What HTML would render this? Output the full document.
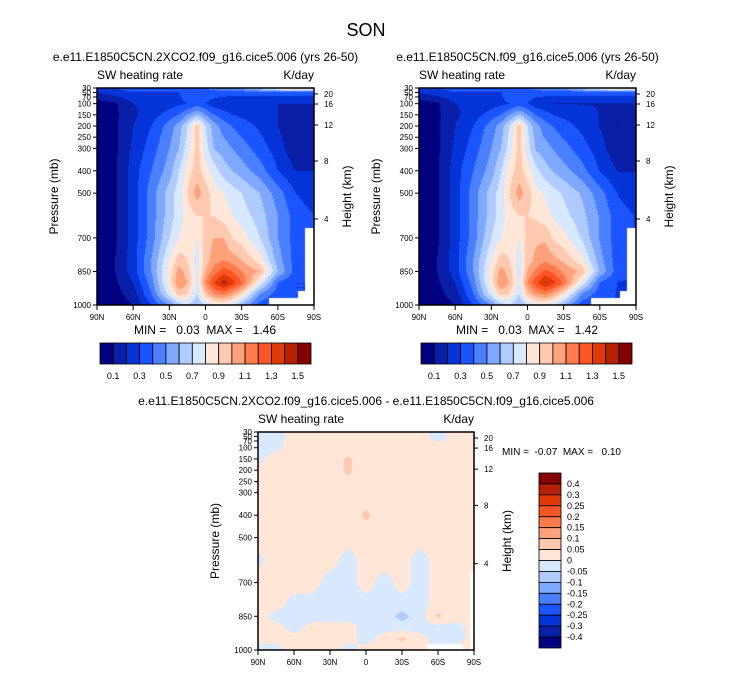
<!DOCTYPE html>
<html><head><meta charset="utf-8">
<style>
body{margin:0;background:#fff;width:733px;height:673px;overflow:hidden;position:relative;font-family:"Liberation Sans",sans-serif}
canvas{position:absolute}
svg{position:absolute;left:0;top:0}
text{white-space:pre}
</style></head><body>
<canvas id="c1" width="217" height="217" style="left:97px;top:88px"></canvas>
<canvas id="c2" width="217" height="217" style="left:419px;top:88px"></canvas>
<canvas id="c3" width="216" height="218" style="left:258px;top:432px"></canvas>
<svg id="s" width="733" height="673" xmlns="http://www.w3.org/2000/svg"></svg>
<script>
const latsA=[90,75,60,45,30,22,15,7,0,-7,-15,-22,-30,-45,-60,-75,-90];
const latsD=[90,75,60,45,30,15,0,-15,-30,-45,-60,-75,-90];
const xLabels=['90N','60N','30N','0','30S','60S','90S'];
const pres=[30,50,100,150,200,300,400,500,600,700,800,850,900,950,1000];
const pTicks=[30,50,70,100,150,200,250,300,400,500,700,850,1000];
const hTicks=[[20,94],[16,104],[12,125],[8,161],[4,219]];
const fieldA=[
[.3,.3,.35,.35,.35,.35,.4,.4,.4,.45,.5,.5,.55,.7,.9,1.0,1.0],
[.2,.25,.3,.3,.3,.3,.35,.35,.35,.35,.35,.35,.35,.35,.35,.35,.35],
[.05,.08,.2,.22,.25,.28,.3,.35,.3,.25,.22,.2,.2,.2,.2,.2,.2],
[.05,.08,.18,.25,.35,.4,.5,.6,.5,.4,.35,.3,.28,.25,.2,.15,.15],
[.05,.08,.2,.3,.45,.55,.7,.95,.7,.55,.45,.4,.35,.28,.2,.1,.12],
[.05,.08,.22,.35,.5,.6,.75,.95,.75,.6,.55,.5,.45,.35,.25,.12,.15],
[.05,.08,.25,.4,.55,.7,.85,.95,.85,.75,.65,.6,.55,.45,.3,.2,.2],
[.05,.08,.25,.45,.65,.75,.9,1.05,.95,.85,.8,.75,.7,.6,.45,.3,.25],
[.05,.08,.25,.45,.65,.75,.85,.9,.9,.9,.85,.8,.75,.65,.5,.35,.3],
[.05,.08,.25,.45,.7,.8,.85,.8,.95,1.0,1.0,.9,.85,.7,.5,.35,.3],
[.05,.1,.25,.5,.8,.95,.9,.75,.95,1.05,1.1,1.05,1.0,.85,.55,.35,.3],
[.05,.1,.25,.5,.85,1.05,.95,.75,1.0,1.15,1.25,1.2,1.1,1.0,.6,.35,.3],
[.05,.08,.2,.45,.85,1.1,1.0,.75,1.1,1.3,1.45,1.35,1.2,.8,.4,.3,.3],
[.05,.06,.15,.4,.75,.95,.9,.7,.95,1.1,1.15,1.05,.9,.5,.35,.3,.3],
[.04,.05,.1,.3,.5,.65,.7,.6,.7,.8,.8,.75,.6,.35,.3,.3,.3]];
const fieldB=fieldA.map(r=>r.map((v,i)=>i>=9?v*0.98:v));
const fieldD=[
[-.02,-.02,.02,.02,.02,.02,.02,.02,.02,.02,-.02,.02,.02],
[-.02,-.02,.02,.02,.02,.02,.02,.02,.02,.02,-.02,.02,.02],
[-.02,-.01,.02,.02,.02,.02,.02,.02,.02,.02,.02,.02,.02],
[-.01,.02,.02,.02,.02,.06,.02,.02,.02,.02,.02,.02,.02],
[.02,.02,.02,.02,.02,.06,.02,.02,.02,.02,.02,.02,.02],
[.02,.02,.02,.02,.02,.02,.02,.02,.02,.02,.02,.02,.02],
[.02,.02,.02,.02,.02,.02,.06,.02,.02,.02,.02,.02,.02],
[.02,.02,.02,.02,.02,.02,.02,.02,.02,.02,.02,.02,.02],
[-.01,.02,.02,.02,.02,-.02,.02,.02,.02,-.02,.02,.02,.02],
[.02,.02,.02,.02,-.02,-.02,.02,-.02,.02,-.02,.02,.02,.02],
[.02,.02,-.02,-.02,-.02,-.02,-.02,-.02,-.02,-.02,.02,.02,.02],
[.02,-.02,-.02,-.02,-.02,-.02,-.02,-.02,-.07,-.02,.06,.02,.02],
[.02,.02,-.02,.02,.02,.02,-.02,-.02,-.02,-.02,-.02,-.02,.02],
[.02,.02,.02,.02,.02,.02,-.02,.02,.06,.02,-.02,-.02,.02],
[-.02,-.02,.02,.02,.02,-.02,.02,.02,.02,.02,-.02,.02,.02]];
const colors=['#000080','#0a1fa8','#0535d8','#1a55ff','#4a7fff','#7fa8ff','#b0cbff','#d8e8ff','#ffe6d6','#ffc9b0','#ffa27c','#ff7b4c','#ff5424','#e03a0a','#b52000','#870000'];
const levA=[0.1,0.2,0.3,0.4,0.5,0.6,0.7,0.8,0.9,1.0,1.1,1.2,1.3,1.4,1.5];
const levD=[-0.4,-0.3,-0.25,-0.2,-0.15,-0.1,-0.05,0,0.05,0.1,0.15,0.2,0.25,0.3,0.4];
const labA=['0.1','0.3','0.5','0.7','0.9','1.1','1.3','1.5'];
const labD=['0.4','0.3','0.25','0.2','0.15','0.1','0.05','0','-0.05','-0.1','-0.15','-0.2','-0.25','-0.3','-0.4'];

function interp(F,lats,lat,p){
  let j=0;while(j<pres.length-2&&p>pres[j+1])j++;
  const t=Math.min(1,Math.max(0,(p-pres[j])/(pres[j+1]-pres[j])));
  let i=0;while(i<lats.length-2&&lat<lats[i+1])i++;
  const u=Math.min(1,Math.max(0,(lats[i]-lat)/(lats[i]-lats[i+1])));
  const a=F[j][i]*(1-u)+F[j][i+1]*u,b=F[j+1][i]*(1-u)+F[j+1][i+1]*u;
  return a*(1-t)+b*t;
}
function lev(v,L){let k=0;while(k<L.length&&v>=L[k])k++;return k;}
function draw(id,F,lats,L,w,h){
  const ctx=document.getElementById(id).getContext('2d');
  for(let y=0;y<h;y++){const p=30+(y+0.5)/h*970;
    for(let x=0;x<w;x++){const lat=90-(x+0.5)/w*180;
      ctx.fillStyle=colors[lev(interp(F,lats,lat,p),L)];ctx.fillRect(x,y,1,1);}}
  return ctx;
}
const c1=draw('c1',fieldA,latsA,levA,217,217),c2=draw('c2',fieldB,latsA,levA,217,217),c3=draw('c3',fieldD,latsD,levD,216,218);
[c1,c2].forEach(c=>{c.fillStyle='#fff';c.fillRect(172,210,32,7);c.fillRect(208,140,9,77);c.fillRect(201,203,8,14);});
c3.fillStyle='#fff';c3.fillRect(169,212,36,6);c3.fillRect(212,140,4,78);

const S=document.getElementById('s');const NS='http://www.w3.org/2000/svg';
function el(tag,at,txt){const e=document.createElementNS(NS,tag);for(const k in at)e.setAttribute(k,at[k]);if(txt!=null)e.textContent=txt;S.appendChild(e);return e;}
function T(x,y,s,txt,anchor,name,extra){const e=el('text',Object.assign({x:x,y:y,'font-size':s,'text-anchor':anchor||'start','font-family':'Liberation Sans, sans-serif'},extra||{}),txt);

return e;}
T(366,36,18,'SON','middle','main-title');
function panel(x0,y0,w,h,title,name,ty){
  T(x0+w/2,ty,12,title,'middle',name+'-title');
  T(x0,y0-9,12,'SW heating rate','start',name+'-left-string');
  T(x0+w,y0-9,12,'K/day','end',name+'-units');
  const r=el('rect',{x:x0,y:y0,width:w,height:h,fill:'none',stroke:'#000','stroke-width':1.5});
  
  
  const py=p=>y0+(p-30)/970*h;
  pTicks.forEach(p=>{el('line',{x1:x0-4,x2:x0,y1:py(p),y2:py(p),stroke:'#000'});
    T(x0-6,py(p)+3,8,String(p),'end',name+'-ytick-'+p);});
  hTicks.forEach(([k,yy])=>{const y=y0+(yy-88)*h/217;el('line',{x1:x0+w,x2:x0+w+4,y1:y,y2:y,stroke:'#000'});
    T(x0+w+10,y+3,8,String(k),'start',name+'-htick-'+k);});
  xLabels.forEach((l,i)=>{const x=x0+i*w/6;el('line',{x1:x,x2:x,y1:y0+h,y2:y0+h+5,stroke:'#000'});
    T(x,y0+h+15,8,l,'middle',name+'-xtick-'+l);});
  T(0,0,12,'Pressure (mb)','middle',name+'-y-axis-title',{transform:'translate('+(x0-39)+','+(y0+h/2)+') rotate(-90)'});
  T(0,0,12,'Height (km)','middle',name+'-right-axis-title',{transform:'translate('+(x0+w+37)+','+(y0+h/2)+') rotate(-90)'});
}
panel(97,88,217,217,'e.e11.E1850C5CN.2XCO2.f09_g16.cice5.006 (yrs 26-50)','left-panel',61);
panel(419,88,217,217,'e.e11.E1850C5CN.f09_g16.cice5.006 (yrs 26-50)','right-panel',61);
panel(258,432,216,218,'e.e11.E1850C5CN.2XCO2.f09_g16.cice5.006 - e.e11.E1850C5CN.f09_g16.cice5.006','diff-panel',405);
T(205,334,12,'MIN =   0.03  MAX =   1.46','middle','left-minmax');
T(527,334,12,'MIN =   0.03  MAX =   1.42','middle','right-minmax');
T(502,455,10,'MIN =  -0.07  MAX =   0.10','start','diff-minmax');
function hbar(x0,name){const bw=211/16;
  colors.forEach((c,i)=>{const r=el('rect',{x:x0+i*bw,y:343,width:bw,height:21,fill:c,stroke:'#000','stroke-width':0.8});
    
    });
  labA.forEach((l,i)=>T(x0+(1+2*i)*bw,379,9,l,'middle',name+'-label'));}
hbar(100,'left-colorbar');hbar(421,'right-colorbar');
(function(){const bh=175/16;
  colors.slice().reverse().forEach((c,i)=>{const r=el('rect',{x:539,y:473+i*bh,width:22,height:bh,fill:c,stroke:'#000','stroke-width':0.8});
    
    });
  labD.forEach((l,i)=>T(567,473+(i+1)*bh+3,9,l,'start','diff-colorbar-label'));})();
</script>
</body></html>
